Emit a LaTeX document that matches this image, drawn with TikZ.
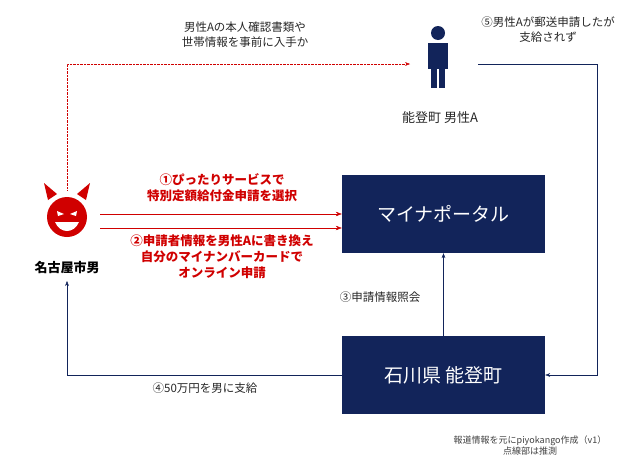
\documentclass[tikz,border=0pt]{standalone}
\usepackage{fontspec}
\setmainfont{Noto Sans CJK JP}
\usetikzlibrary{arrows.meta}
\definecolor{navy}{HTML}{12245A}
\definecolor{rd}{HTML}{D00000}
\begin{document}
\begin{tikzpicture}[x=1pt,y=-1pt,
 box/.style={fill=navy,text=white,minimum width=203pt,minimum height=78pt,font=\fontsize{19}{22}\selectfont},
 lbl/.style={font=\fontsize{11.5}{15}\selectfont,align=center,text=black!85},
 rlbl/.style={font=\fontsize{12.5}{16}\selectfont\bfseries,align=center,text=rd},
 nav/.style={draw=navy,-{Stealth[length=5pt]}},
 red/.style={draw=rd,-{Stealth[length=6pt]}}]
\useasboundingbox (0,0) rectangle (640,474);
\node[box] (mp) at (443.5,214) {マイナポータル};
\node[box] (nt) at (443.5,375) {石川県 能登町};
% devil
\coordinate (dv) at (67,215);
\fill[rd] (48,200) -- (44,183) -- (57,194) -- cycle;
\fill[rd] (86,200) -- (90,183) -- (77,194) -- cycle;
\fill[rd] (67,217) circle (20);
\fill[white] (57,211) -- (64,214) -- (58,216) -- cycle;
\fill[white] (77,211) -- (70,214) -- (76,216) -- cycle;
\fill[white] (55,222) .. controls (60,234) and (74,234) .. (79,222) -- cycle;
\node[font=\fontsize{13}{15}\selectfont\bfseries] (nm) at (67,268) {名古屋市男};
% person
\fill[navy] (438,33) circle (7);
\fill[navy] (428,43) rectangle (448,69);
\fill[navy] (431,66) rectangle (437,88);
\fill[navy] (439,66) rectangle (445,88);
\coordinate (pl) at (410,64);
\coordinate (pr) at (478,64);
\node[lbl,font=\fontsize{13}{15}\selectfont] (pa) at (440,118) {能登町 男性A};
% dotted
\coordinate (d1) at (67,190);
\draw[rd,densely dotted,-{Stealth[length=5pt]}] (d1) |- (pl);
\node[lbl] (t0) at (245,35) {男性Aの本人確認書類や\\世帯情報を事前に入手か};
% red arrows
\coordinate (r1) at (100,214);
\coordinate (r2) at (100,228);
\draw[red] (r1) -- (r1 -| mp.west);
\draw[red] (r2) -- (r2 -| mp.west);
\node[rlbl] (l1) at (222,188) {①ぴったりサービスで\\特別定額給付金申請を選択};
\node[rlbl] (l2) at (222,257) {②申請者情報を男性Aに書き換え\\自分のマイナンバーカードで\\オンライン申請};
% navy
\draw[nav] (nt.north) -- (mp.south);
\node[lbl] (l3) at (380,297) {③申請情報照会};
\coordinate (nmb) at (67,281);
\draw[nav] (nt.west) -| (nmb);
\node[lbl] (l4) at (205,388) {④50万円を男に支給};
\coordinate (c5) at (597,64);
\draw[nav] (pr) -- (c5) |- (nt.east);
\node[lbl] (l5) at (548,30) {⑤男性Aが郵送申請したが\\支給されず};
\node[font=\fontsize{9}{11}\selectfont,align=center,text=black!75] (ft) at (530,446) {報道情報を元にpiyokango作成（v1）\\点線部は推測};
\end{tikzpicture}
\end{document}
